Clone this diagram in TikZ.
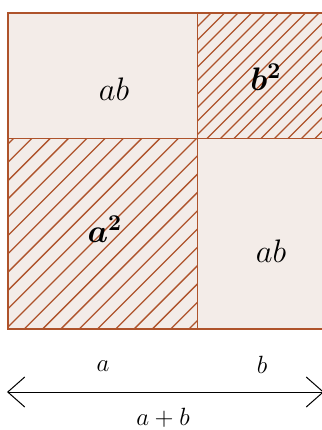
\documentclass[tikz,border=0pt]{standalone}
\usepackage{bm}
\usetikzlibrary{arrows.meta}
\definecolor{edge}{HTML}{AE532B}
\definecolor{paper}{HTML}{F3ECE8}
\tikzset{
  cell/.style={fill=paper, draw=edge, line width=0.9pt},
  hatchline/.style={draw=edge, line width=0.65pt},
  boxlabel/.style={font=\fontsize{14.4}{17}\selectfont, inner sep=0pt, scale=1.13, transform shape},
  axislabel/.style={font=\fontsize{12}{14}\selectfont, inner sep=0pt, scale=1.04, transform shape},
  dimline/.style={draw=black, line width=0.5pt, {Straight Barb[length=8.5pt,width=15pt,line width=0.5pt]}-{Straight Barb[length=8.5pt,width=15pt,line width=0.5pt]}}
}
\begin{document}
\begin{tikzpicture}[x=0.5pt,y=-0.5pt]
\useasboundingbox (0,0) rectangle (322,430);
\fill[white] (0,0) rectangle (322,430);
% cells
\draw[cell] (8,13) rectangle (197.5,138.5);
\draw[cell] (197.5,13) rectangle (323,138.5);
\draw[cell] (8,138.5) rectangle (197.5,329);
\draw[cell] (197.5,138.5) rectangle (323,329);
% hatching b^2 (lines x+y=c)
\begin{scope}
\clip (197.5,13) rectangle (323,138.5);
\foreach \k in {0,...,19} {
  \draw[hatchline] ({210.5+13.5*\k-400},400) -- ({210.5+13.5*\k},0);
}
\end{scope}
% hatching a^2
\begin{scope}
\clip (8,138.5) rectangle (197.5,329);
\foreach \k in {0,...,21} {
  \draw[hatchline] ({152+18.3*\k-400},400) -- ({152+18.3*\k},0);
}
\end{scope}
% redraw borders over hatching
\draw[edge, line width=0.9pt] (8,13) rectangle (323,329);
\draw[edge, line width=0.9pt] (197.5,13) -- (197.5,329);
\draw[edge, line width=0.9pt] (8,138.5) -- (323,138.5);
% labels
\node[boxlabel] (ab1) at (114,89) {$ab$};
\node[boxlabel] (bsq) at (266,77) {$\bm{b^2}$};
\node[boxlabel] (asq) at (105,229) {$\bm{a^2}$};
\node[boxlabel] (ab2) at (271,251) {$ab$};
% dimension arrow
\coordinate (L) at (7,392);
\coordinate (R) at (324,392);
\draw[dimline] (L) -- (R);
\node[axislabel] (la) at (103,366) {$a$};
\node[axislabel] (lb) at (262,365) {$b$};
\node[axislabel] (lab) at (163,418) {$a+b$};
\end{tikzpicture}
\end{document}
